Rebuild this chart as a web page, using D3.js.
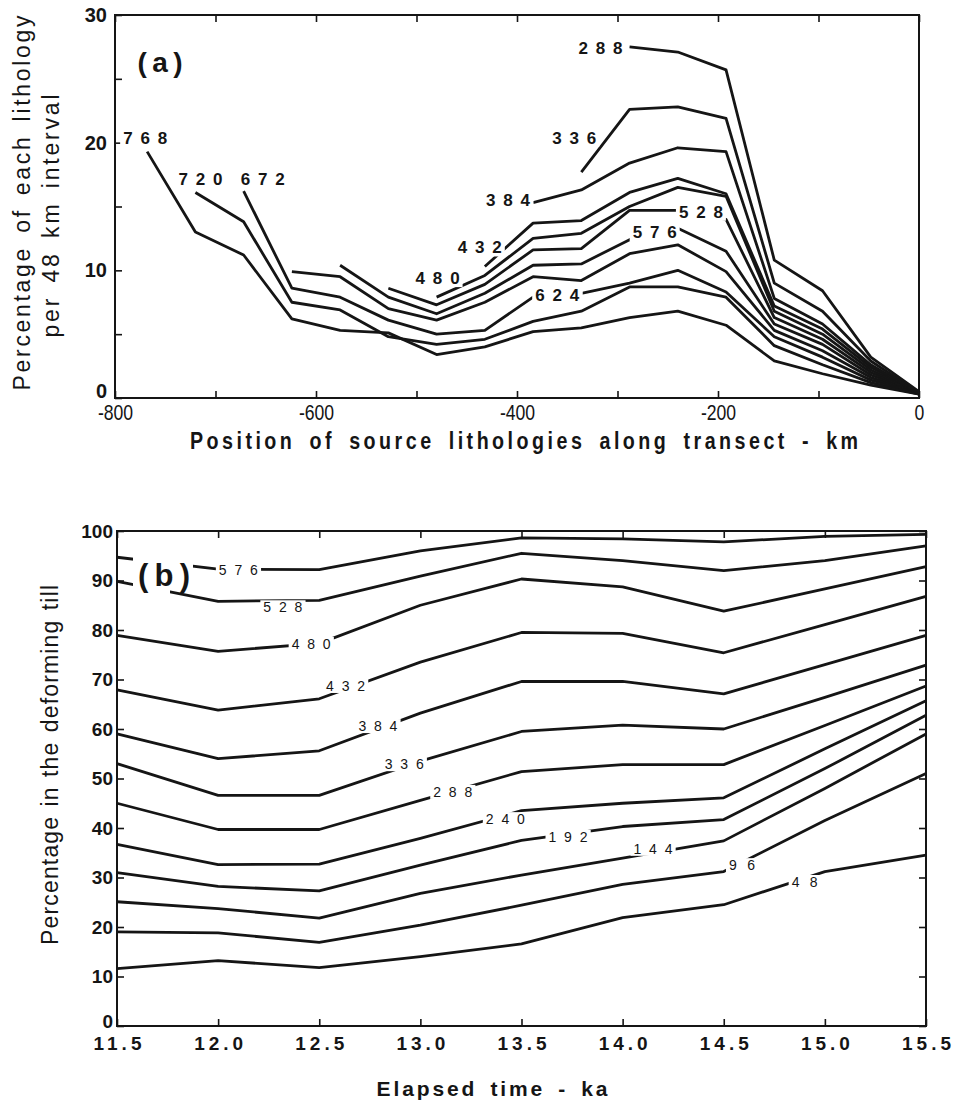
<!DOCTYPE html>
<html><head><meta charset="utf-8">
<script src="https://cdn.jsdelivr.net/npm/d3@7"></script>
<style>
html,body{margin:0;padding:0;background:#fff;}
svg{display:block;}
</style></head><body>
<svg id="chart" width="954" height="1100"></svg>
<script>
// ---------- Panel (a): share of each source lithology along the transect ----------
const positionsKm = [-768,-720,-672,-624,-576,-528,-480,-432,-384,-336,-288,-240,-192,-144,-96,-48,0];
const transportKm = [768,720,672,624,576,528,480,432,384,336,288];
// each curve runs from its own starting position (-N km) to 0 km
const pct768 = [19.3,13.0,11.2,6.2,5.3,5.1,3.4,4.0,5.2,5.5,6.3,6.8,5.7,2.9,1.9,1.0,0.3];
const pct720 = [16.1,13.8,7.5,6.9,4.8,4.2,4.6,6.0,6.8,8.7,8.7,7.9,4.1,2.6,1.2,0.3];
const pct672 = [16.2,8.6,7.9,6.1,5.0,5.3,7.9,8.2,9.0,10.0,8.3,4.8,3.2,1.4,0.4];
const pct624 = [9.9,9.5,7.0,6.1,7.5,9.5,9.2,11.3,12.0,9.9,5.3,3.7,1.6,0.4];
const pct576 = [10.4,7.9,6.6,8.2,10.4,10.5,12.4,13.3,11.5,5.8,4.2,1.8,0.4];
const pct528 = [8.6,7.3,8.9,11.6,11.7,14.7,14.7,14.0,6.3,4.6,2.0,0.4];
const pct480 = [7.9,9.6,12.5,12.9,15.0,16.5,15.8,6.8,5.0,2.2,0.4];
const pct432 = [10.3,13.7,13.9,16.1,17.2,16.0,7.2,5.4,2.4,0.4];
const pct384 = [15.3,16.3,18.4,19.6,19.3,7.8,5.8,2.6,0.4];
const pct336 = [17.7,22.6,22.8,21.9,9.0,6.8,2.9,0.4];
const pct288 = [27.5,27.1,25.7,10.8,8.4,3.2,0.5];
const xTicksA = [-800,-700,-600,-500,-400,-300,-200,-100,0];
const xLabelsA = [-800,-600,-400,-200,0];
const yTicksA = [0,5,10,15,20,25,30];
const yLabelsA = [0,10,20,30];

// ---------- Panel (b): composition of the deforming till through time ----------
const elapsedKa = [11.5,12.0,12.5,13.0,13.5,14.0,14.5,15.0,15.5];
const tillKm = [576,528,480,432,384,336,288,240,192,144,96,48];
const till576 = [94.7,92.3,92.2,96.0,98.6,98.4,97.8,98.9,99.3];
const till528 = [89.8,85.8,86.0,90.9,95.5,94.0,92.0,94.0,97.0];
const till480 = [78.9,75.7,77.3,85.0,90.3,88.7,83.8,88.3,92.8];
const till432 = [67.9,63.8,66.1,73.5,79.5,79.3,75.4,81.1,86.8];
const till384 = [59.0,54.0,55.6,63.2,69.6,69.6,67.1,73.0,78.9];
const till336 = [53.0,46.6,46.6,53.5,59.5,60.8,60.0,66.4,72.9];
const till288 = [45.0,39.7,39.7,45.6,51.4,52.8,52.8,60.7,68.7];
const till240 = [36.7,32.6,32.7,37.9,43.5,45.0,46.1,56.0,65.7];
const till192 = [31.0,28.2,27.3,32.5,37.5,40.3,41.7,52.0,62.8];
const till144 = [25.1,23.7,21.8,26.8,30.5,33.9,37.4,48.0,59.0];
const till96  = [19.0,18.8,16.9,20.4,24.4,28.6,31.2,41.5,51.0];
const till48  = [11.6,13.2,11.8,14.0,16.6,21.9,24.5,31.2,34.5];
const yTicksB = [0,10,20,30,40,50,60,70,80,90,100];

// ---------- tables built from the arrays ----------
const pctByKm = {768:pct768,720:pct720,672:pct672,624:pct624,576:pct576,528:pct528,
                 480:pct480,432:pct432,384:pct384,336:pct336,288:pct288};
const curvesA = transportKm.map(n => {
  const v = pctByKm[n];
  const xs = positionsKm.slice(positionsKm.length - v.length);
  return {n, pts: xs.map((x,i) => [x, v[i]])};
});
const tillByKm = {576:till576,528:till528,480:till480,432:till432,384:till384,336:till336,
                  288:till288,240:till240,192:till192,144:till144,96:till96,48:till48};
const curvesB = tillKm.map(n => ({n, pts: elapsedKa.map((t,i) => [t, tillByKm[n][i]])}));

// label placement (data coordinates) for the curve annotations
const labelPosA = {768:[-770,20.4],720:[-715,17.2],672:[-653,17.2],624:[-360,8.1],576:[-263,13.0],
                   528:[-217,14.6],480:[-479,9.4],432:[-437,11.8],384:[-409,15.5],336:[-343,20.4],288:[-317,27.4]};
const labelPosB = {576:[12.10,92.1],528:[12.32,84.6],480:[12.46,77.2],432:[12.63,68.7],384:[12.79,60.6],
                   336:[12.92,52.9],288:[13.16,47.3],240:[13.42,41.8],192:[13.73,38.2],144:[14.15,35.8],
                   96:[14.59,32.5],48:[14.90,29.1]};

const FONT = "'Liberation Sans', Arial, Helvetica, sans-serif";
const INK = "#151515";
const svg = d3.select("#chart");
svg.append("rect").attr("width",954).attr("height",1100).attr("fill","#fff");

function styleAxis(g){
  g.select(".domain").remove();
  g.selectAll(".tick line").attr("stroke",INK).attr("stroke-width",1.6);
  g.selectAll("text").attr("fill",INK).attr("font-family",FONT);
}
// spread letters (and words a little more) so a title spans a given width
function spreadText(t, target){
  const txt = t.text();
  const nat = t.node().getComputedTextLength();
  const gaps = (txt.match(/ /g) || []).length;
  const n = txt.length - 1;
  const ls = Math.max(0, (target - nat) / (n + 1.5 * gaps));
  t.attr("letter-spacing", ls.toFixed(2) + "px")
   .attr("word-spacing", (1.5 * ls).toFixed(2) + "px")
   .attr("dx", (ls / 2).toFixed(2));
}
function title(g, txt, tf, size, weight, target, sx){
  const holder = g.append("g").attr("transform", tf + (sx ? ` scale(${sx},1)` : ""));
  const t = holder.append("text").attr("text-anchor","middle").attr("font-family",FONT)
    .attr("font-size",size).attr("font-weight",weight).attr("fill",INK).text(txt);
  spreadText(t, target / (sx || 1));
  return t;
}

// ================= Panel (a) =================
const xa = d3.scaleLinear().domain([-800,0]).range([115,919]);
const ya = d3.scaleLinear().domain([0,30]).range([398,15]);
const gA = svg.append("g");

gA.append("g").attr("transform",`translate(0,${ya(0)})`)
  .call(d3.axisBottom(xa).tickValues(xTicksA).tickSize(-7).tickPadding(6)
        .tickFormat(d => xLabelsA.includes(d) ? String(d) : ""))
  .call(styleAxis)
  .call(g => g.selectAll("text").attr("font-size",22).attr("transform","scale(0.8,1)"));
gA.append("g").attr("transform",`translate(0,${ya(30)})`)
  .call(d3.axisTop(xa).tickValues(xTicksA).tickSize(-7).tickFormat(""))
  .call(styleAxis);
gA.append("g").attr("transform",`translate(${xa(-800)},0)`)
  .call(d3.axisLeft(ya).tickValues(yTicksA).tickSize(-7).tickPadding(8)
        .tickFormat(d => yLabelsA.includes(d) ? String(d) : ""))
  .call(styleAxis)
  .call(g => g.selectAll("text").attr("font-size",20).attr("font-weight","bold"))
  .call(g => g.selectAll(".tick").filter(d => d === 0).select("text").attr("dy","-0.05em"));
gA.append("rect").attr("x",xa(-800)).attr("y",ya(30))
  .attr("width",xa(0)-xa(-800)).attr("height",ya(0)-ya(30))
  .attr("fill","none").attr("stroke",INK).attr("stroke-width",2);

const lineA = d3.line().x(d => xa(d[0])).y(d => ya(d[1]));
gA.append("g").selectAll("path").data(curvesA).join("path")
  .attr("d", d => lineA(d.pts)).attr("fill","none")
  .attr("stroke",INK).attr("stroke-width",2.8).attr("stroke-linejoin","round");

function curveLabel(g, text, cx, cy, size, width, weight){
  const t = g.append("text").attr("x",cx).attr("y",cy).attr("dy","0.36em")
    .attr("text-anchor","middle").attr("font-family",FONT).attr("font-size",size)
    .attr("font-weight",weight).attr("fill",INK)
    .attr("textLength",width).attr("lengthAdjust","spacing").text(text);
  const b = t.node().getBBox();
  g.insert("rect", () => t.node()).attr("x",b.x-3).attr("y",b.y+1)
    .attr("width",b.width+6).attr("height",b.height-2).attr("fill","#fff");
}
const labA = gA.append("g");
transportKm.forEach(n => {
  const p = labelPosA[n];
  curveLabel(labA, String(n), xa(p[0]), ya(p[1]), 17, 44, "bold");
});
labA.append("text").attr("x",160).attr("y",62).attr("dy","0.36em").attr("text-anchor","middle")
  .attr("font-family",FONT).attr("font-size",28).attr("font-weight","bold").attr("fill",INK)
  .attr("textLength",45).attr("lengthAdjust","spacing").text("(a)");

// axis titles
title(gA, "Percentage of each lithology", "translate(30,203) rotate(-90)", 23, "normal", 375);
title(gA, "per 48 km interval", "translate(59,216) rotate(-90)", 23, "normal", 243);
title(gA, "Position of source lithologies along transect - km", "translate(524,449)", 24, "bold", 668, 0.82);

// ================= Panel (b) =================
const xb = d3.scaleLinear().domain([11.5,15.5]).range([117,926]);
const yb = d3.scaleLinear().domain([0,100]).range([1026,531]);
const gB = svg.append("g");

gB.append("g").attr("transform",`translate(0,${yb(0)})`)
  .call(d3.axisBottom(xb).tickValues(elapsedKa).tickSize(-7).tickPadding(11).tickFormat(d3.format(".1f")))
  .call(styleAxis)
  .call(g => g.selectAll("text").attr("font-size",19).attr("font-weight","bold")
        .attr("letter-spacing","4px").attr("dx","2px"));
gB.append("g").attr("transform",`translate(0,${yb(100)})`)
  .call(d3.axisTop(xb).tickValues(elapsedKa).tickSize(-7).tickFormat(""))
  .call(styleAxis);
gB.append("g").attr("transform",`translate(${xb(11.5)},0)`)
  .call(d3.axisLeft(yb).tickValues(yTicksB).tickSize(-7).tickPadding(4))
  .call(styleAxis)
  .call(g => g.selectAll("text").attr("font-size",19).attr("font-weight","bold"))
  .call(g => g.selectAll(".tick").filter(d => d === 0).select("text").attr("dy","0.1em"));
gB.append("g").attr("transform",`translate(${xb(15.5)},0)`)
  .call(d3.axisRight(yb).tickValues(yTicksB).tickSize(-7).tickFormat(""))
  .call(styleAxis);
gB.append("rect").attr("x",xb(11.5)).attr("y",yb(100))
  .attr("width",xb(15.5)-xb(11.5)).attr("height",yb(0)-yb(100))
  .attr("fill","none").attr("stroke",INK).attr("stroke-width",2);

const lineB = d3.line().x(d => xb(d[0])).y(d => yb(d[1]));
gB.append("g").selectAll("path").data(curvesB).join("path")
  .attr("d", d => lineB(d.pts)).attr("fill","none")
  .attr("stroke",INK).attr("stroke-width",2.8).attr("stroke-linejoin","round");

const labB = gB.append("g");
tillKm.forEach(n => {
  const p = labelPosB[n];
  curveLabel(labB, String(n), xb(p[0]), yb(p[1]), 14, n < 100 ? 26 : 39, "normal");
});
// panel tag with a knock-out behind it (narrower at the bottom, where the 528 curve resumes)
labB.append("rect").attr("x",133).attr("y",556).attr("width",60).attr("height",28).attr("fill","#fff");
labB.append("rect").attr("x",133).attr("y",583).attr("width",37).attr("height",15).attr("fill","#fff");
labB.append("text").attr("x",164).attr("y",575).attr("dy","0.36em").attr("text-anchor","middle")
  .attr("font-family",FONT).attr("font-size",31).attr("font-weight","bold").attr("fill",INK)
  .attr("textLength",52).attr("lengthAdjust","spacing").text("(b)");

title(gB, "Percentage in the deforming till", "translate(58,765) rotate(-90)", 23, "normal", 360);
title(gB, "Elapsed time - ka", "translate(492,1096)", 21, "bold", 231);
</script>
</body></html>
